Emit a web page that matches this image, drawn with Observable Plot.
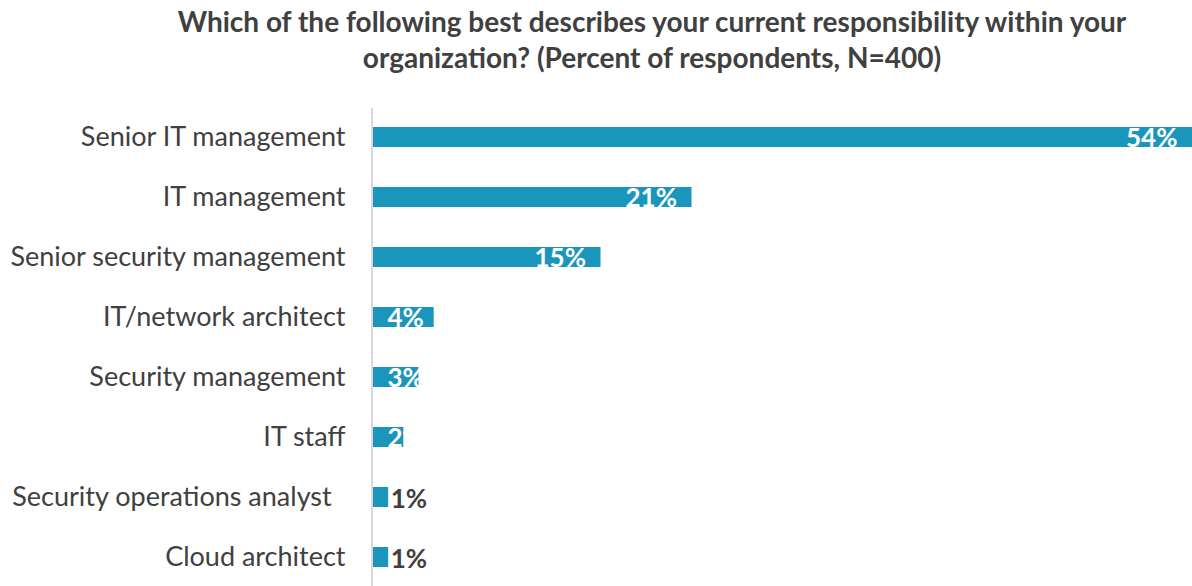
<!DOCTYPE html>
<html><head><meta charset="utf-8">
<script src="https://cdn.jsdelivr.net/npm/d3@7"></script>
<script src="https://cdn.jsdelivr.net/npm/@observablehq/plot@0.6"></script>
<style>
body{margin:0;background:#fff;font-family:Lato,sans-serif;}
#title{height:100px;box-sizing:border-box;padding-top:3px;padding-left:112px;width:1192px;text-align:center;font-weight:bold;font-size:28px;line-height:36px;color:#404040;white-space:nowrap;}
</style></head><body>
<div id="title">Which of the following best describes your current responsibility within your<br>organization? (Percent of respondents, N=400)</div>
<div id="chart"></div>
<script>
const categories = [
  "Senior IT management",
  "IT management",
  "Senior security management",
  "IT/network architect",
  "Security management",
  "IT staff",
  "Security operations analyst\u00a0\u00a0",
  "Cloud architect"
];
const values = [54, 21, 15, 4, 3, 2, 1, 1];
const valueLabels = ["54%", "21%", "15%", "4%", "3%", "2%", "1%", "1%"];

const data = categories.map((c, i) => ({category: c, value: values[i], label: valueLabels[i]}));

const plot = Plot.plot({
  width: 1192, height: 486,
  marginTop: 8, marginBottom: 0, marginLeft: 373, marginRight: 0,
  style: {fontFamily: "Lato, sans-serif", color: "#404040", background: "#fff"},
  x: {domain: [0, 54], axis: null},
  y: {domain: categories, paddingInner: 0.67, paddingOuter: 0.3, label: null},
  marks: [
    Plot.axisY({tickSize: 0, tickPadding: 28, fontSize: 27, label: null}),
    Plot.barX(data, {x: "value", y: "category", fill: "#1a96bc"}),
    Plot.ruleX([0], {stroke: "#d9d9d9", strokeWidth: 2, dx: -1.5}),
    Plot.text(data.filter(d => d.value >= 10), {x: "value", y: "category", text: "label", textAnchor: "end", dx: -15, dy: 1, fill: "white", fontWeight: "bold", fontSize: 26}),
    Plot.text(data.filter(d => d.value >= 2 && d.value < 10), {x: 0, y: "category", text: "label", textAnchor: "start", dx: 14, dy: 1, fill: "white", fontWeight: "bold", fontSize: 26}),
    Plot.text(data.filter(d => d.value < 2), {x: "value", y: "category", text: "label", textAnchor: "start", dx: 2, dy: 2, fill: "#404040", fontWeight: "bold", fontSize: 26})
  ]
});
document.getElementById("chart").appendChild(plot);
</script>
</body></html>
